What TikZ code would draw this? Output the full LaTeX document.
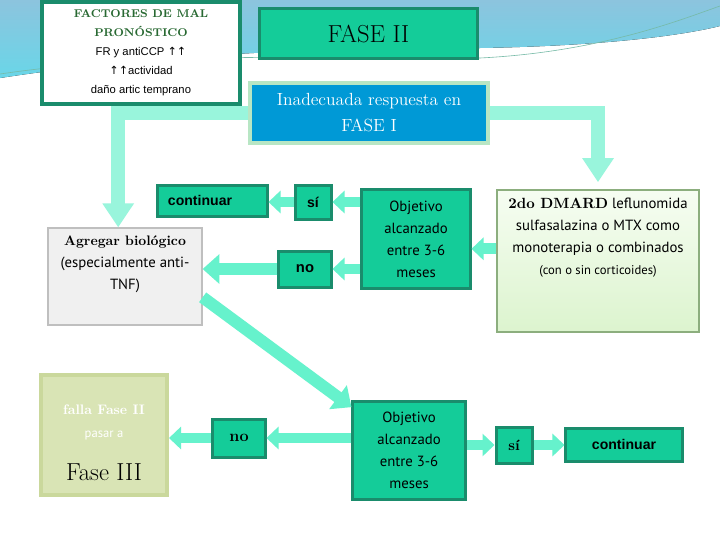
\documentclass[tikz,border=0pt]{standalone}
\usepackage{fontspec}
\usepackage{tikz}
\usetikzlibrary{arrows.meta,positioning,calc}
\newfontfamily\arialf{Liberation Sans}
\newfontfamily\twf{PT Sans}
\newfontfamily\symf{DejaVu Sans}
\definecolor{teal1}{RGB}{20,204,153}
\definecolor{teal2}{RGB}{26,140,108}
\definecolor{aqua}{RGB}{102,242,204}
\definecolor{aqualt}{RGB}{153,245,220}
\definecolor{blue1}{RGB}{0,153,214}
\definecolor{paleg}{RGB}{184,230,196}
\definecolor{hgreen}{RGB}{40,105,50}
\definecolor{olive1}{RGB}{217,228,181}
\definecolor{olive2}{RGB}{202,216,156}
\definecolor{dm1}{RGB}{246,253,242}
\definecolor{dm2}{RGB}{220,244,206}
\definecolor{dm3}{RGB}{140,174,126}
\definecolor{sky1}{RGB}{140,196,222}
\definecolor{sky2}{RGB}{105,214,232}

\begin{document}
\begin{tikzpicture}[x=0.025cm, y=-0.025cm,
    tbox/.style={draw=teal2, fill=teal1, line width=0.075cm, inner sep=2pt, align=center},
    objbox/.style={tbox, font=\twf\fontsize{10.5}{15.6}\selectfont},
    arr/.style={aqua, line width=0.27cm, -{Triangle[width=0.55cm,length=0.3cm]}},
    bigarr/.style={aqua, line width=0.3cm, -{Triangle[width=0.72cm,length=0.42cm]}},
    conn/.style={aqualt, line width=0.35cm, -{Triangle[width=0.75cm,length=0.6cm]}}
]
\useasboundingbox (0,0) rectangle (720,540);
\fill[white] (0,0) rectangle (720,540);
\fill[top color=sky1, bottom color=sky2] (0,0) -- (0,78) .. controls (150,55) and (300,48) .. (480,48)
    .. controls (600,46) and (680,36) .. (720,26) -- (720,0) -- cycle;
\draw[teal2!60, line width=0.015cm] (0,74) .. controls (150,52) and (300,58) .. (480,58) .. controls (600,52) and (680,20) .. (720,6);

\node[draw=teal2, fill=white, line width=0.09cm, minimum width=4.95cm, minimum height=2.55cm, align=center,
    font=\fontsize{8}{13.5}\selectfont] (fact) at (141,53)
    {{\color{hgreen}\bfseries FACTORES DE MAL}\\{\color{hgreen}\bfseries PRONÓSTICO}\\
     {\arialf FR y antiCCP {\symf ↑↑}}\\{\arialf{\symf ↑↑}actividad}\\{\arialf daño artic temprano}};
\node[tbox, minimum width=5.425cm, minimum height=1.225cm, font=\fontsize{17.5}{18}\selectfont] (fase2) at (368.5,33.5) {FASE II};
\node[draw=paleg, fill=blue1, line width=0.08cm, minimum width=5.95cm, minimum height=1.5cm, align=center,
    text=white, font=\fontsize{12.5}{18.4}\selectfont] (inad) at (369,113) {Inadecuada respuesta en\\FASE I};

\node[tbox, minimum height=0.775cm, inner xsep=0.25cm, text width=2.225cm, align=left,
    font=\arialf\bfseries\fontsize{10}{10}\selectfont] (cont1) at (212.5,200.5) {continuar};
\node[tbox, minimum width=0.9cm, minimum height=0.85cm, font=\arialf\bfseries\fontsize{10}{10}\selectfont] (si1) at (313,202) {sí};
\node[tbox, minimum width=1.3cm, minimum height=0.9cm, font=\arialf\bfseries\fontsize{10.5}{10}\selectfont] (no1) at (305,269) {no};
\node[objbox, minimum width=2.7cm, minimum height=2.45cm] (obj1) at (416,239) {Objetivo\\alcanzado\\entre 3-6\\meses};

\node[draw=dm3, top color=dm1, bottom color=dm2, line width=0.03cm, minimum width=5.05cm, minimum height=3.55cm] (dmard) at (598,261) {};
\node[align=center, font=\twf\fontsize{10.5}{15.6}\selectfont] (dmardtxt) at (598,237.5)
    {{\rmfamily\bfseries 2do DMARD} leflunomida\\sulfasalazina o MTX como\\monoterapia o combinados\\{\fontsize{9}{15.6}\selectfont(con o sin corticoides)}};

\node[draw=gray!50, fill=gray!12, line width=0.03cm, minimum width=3.85cm, minimum height=2.425cm] (agreg) at (125,276.5) {};
\node[align=center, font=\twf\fontsize{10.5}{15.6}\selectfont] (agregtxt) at (125,264)
    {{\rmfamily\bfseries\fontsize{9.8}{15.6}\selectfont Agregar biológico}\\(especialmente anti-\\TNF)};

\node[draw=olive2, fill=olive1, line width=0.1cm, minimum width=3.15cm, minimum height=3cm] (falla) at (104,435) {};
\node[align=center, font=\fontsize{9.8}{16.5}\selectfont] (fallatxt) at (104,443)
    {{\color{white}\bfseries falla Fase II}\\{\color{white}\twf\fontsize{9}{16.5}\selectfont pasar a}\\[14pt]{\fontsize{17.5}{18}\selectfont Fase III}};
\node[tbox, minimum width=1.3cm, minimum height=0.95cm, font=\bfseries\fontsize{11.5}{12}\selectfont] (no2) at (239,438) {no};
\node[objbox, minimum width=2.8cm, minimum height=2.425cm] (obj2) at (409,450.5) {Objetivo\\alcanzado\\entre 3-6\\meses};
\node[tbox, minimum width=0.9cm, minimum height=0.9cm, font=\bfseries\fontsize{10.5}{12}\selectfont] (si2) at (514,445) {sí};
\node[tbox, minimum width=2.9cm, minimum height=0.825cm, font=\arialf\bfseries\fontsize{10}{10}\selectfont] (cont2) at (624,444.5) {continuar};

\draw[conn] (inad.west) -| ([xshift=-0.17cm]agreg.north);
\draw[conn, shorten >=0.18cm] (inad.east) -| (dmard.north);
\draw[arr] (dmard.west |- obj1.-10) -- (obj1.-10);
\draw[arr] (obj1.west |- si1.east) -- (si1.east);
\draw[arr] (si1.west) -- (si1.west -| cont1.east);
\draw[arr] (obj1.west |- no1.east) -- (no1.east);
\draw[bigarr] (no1.west) -- (no1.west -| agreg.east);
\draw[bigarr] (agreg.-15) -- (obj2.143);
\draw[arr] (obj2.west |- no2.east) -- (no2.east);
\draw[arr] (no2.west) -- (no2.west -| falla.east);
\draw[arr] (obj2.east |- si2.west) -- (si2.west);
\draw[arr] (si2.east) -- (si2.east -| cont2.west);
\end{tikzpicture}
\end{document}
